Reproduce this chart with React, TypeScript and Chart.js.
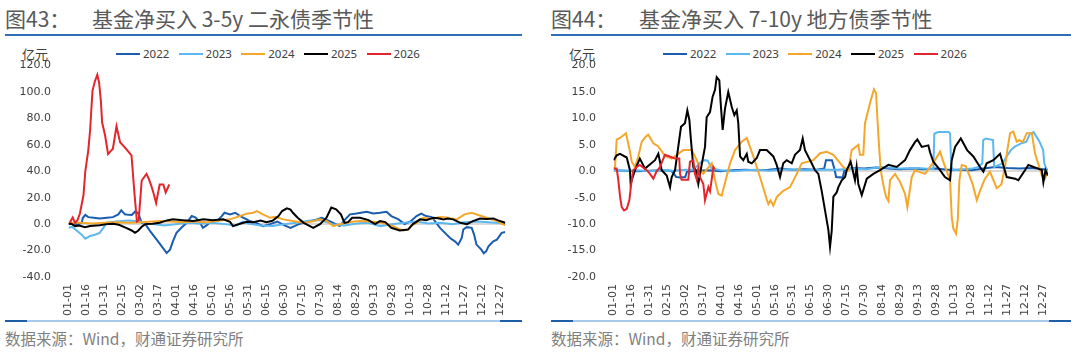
import React, { useEffect, useRef } from 'react';
import { Chart, registerables } from 'chart.js';

Chart.register(...registerables);

type Pt = [number, number];

const X_TICK_LABELS = ['01-01', '01-16', '01-31', '02-15', '03-02', '03-17', '04-01', '04-16', '05-01', '05-16', '05-31', '06-15', '06-30', '07-15', '07-30', '08-14', '08-29', '09-13', '09-28', '10-13', '10-28', '11-12', '11-27', '12-12', '12-27'];
const X_TICK_DAYS = [0, 15, 30, 45, 60, 75, 90, 105, 120, 135, 150, 165, 180, 195, 210, 225, 240, 255, 270, 285, 300, 315, 330, 345, 360];

const SERIES_NAMES = ['2022', '2023', '2024', '2025', '2026'];
const SERIES_COLORS = ['#1a5db0', '#5cb8f2', '#f5a72b', '#000000', '#e3262b'];

// ---------- 图43: 3-5y 二永债 (day of year, 亿元) ----------
const L22: Pt[] = [[0, 0], [4, 0.5], [8, 0], [11, 1], [12, 4.8], [14, 7], [16.5, 5.3], [21, 4.8], [26, 4.3], [32, 4.8], [37, 5.3], [41.5, 7.4], [44, 10.4], [47, 7.4], [50, 7], [52.7, 6.9], [55.4, 9.4], [58, 8.6], [61, 1], [64, 0], [68, -5.3], [73.5, -11.7], [77.7, -16.8], [81.8, -21.9], [84.6, -19.3], [87, -13], [90, -6.6], [94, -2.8], [98.5, 1], [102.7, 6.1], [106, 5], [109.6, 1], [112, -2.8], [115, -1], [119, 2.3], [124, 2.5], [127.7, 6.1], [130, 8.6], [134.6, 7.4], [139, 8.6], [143, 6.1], [148.5, 3.6], [151, 2.3], [156, 1], [162, -1.5], [168, 0], [174, 2], [180, -1], [185, -2.8], [192, 0], [200, 2], [207, 3.6], [211, 4.8], [218, 2], [226, -1.5], [230, 3], [234.6, 7.4], [240, 8], [248.5, 9.4], [254, 8], [259.6, 8.6], [265, 9.4], [269, 6.1], [275, 3.6], [280, 0], [285, 2], [290, 6.1], [294, 7.9], [298, 6.1], [302.7, 5.3], [305.4, 2.3], [309.6, -2.8], [313.7, -6.6], [318, -10.5], [322, -13], [324.8, -15.5], [327.7, -10.5], [329, -4.1], [331.8, -2.3], [336, -2.8], [338, -7.9], [340, -15.5], [344, -19.3], [346, -22], [348, -20.6], [350, -16.8], [354, -13], [357, -11.7], [361, -6.6], [364, -6]];
const L23: Pt[] = [[0, -2.8], [3, -2], [7, -5], [11, -8], [14, -11], [18, -9], [22, -8], [26, -6.6], [29, -2.8], [32, 1], [40, 2], [50, 2.8], [60, 2], [64, 0.5], [70, 0], [80, -1], [90, 0], [100, 1], [110, 0.5], [120, 1], [130, 0], [140, -1], [145, 1.8], [150, 0.5], [160, -1], [170, -1.5], [180, 0], [190, 1], [200, 2.5], [210, 3], [220, 0], [230, -1], [240, 0.5], [250, 1], [260, -1.5], [270, 0], [280, 1], [290, 2], [300, 0.5], [310, 1], [320, 0], [330, 1.5], [340, 2], [350, 1.5], [364, 0.5]];
const L24: Pt[] = [[0, 1], [10, 1], [20, 0.5], [30, 1], [40, 1.5], [50, 1], [60, 1.5], [70, 2], [76, 2.3], [85, 2], [95, 1.5], [105, 2], [115, 1.5], [125, 2.5], [134.6, 3.6], [143, 6.1], [148.5, 7.9], [154, 8.6], [157, 9.9], [162, 7.4], [168, 4.8], [172, 5.5], [179, 3.6], [187, 2.3], [196, 1], [203, 2], [209.6, 3.6], [215, 2.5], [220.7, -1.5], [226, 0], [232, 1], [238, 2], [243, 2.3], [250, 2], [258, 1.5], [265, 0], [270.7, -1.5], [275, -3.5], [279, -4.8], [283, -4], [286, -1], [290, 1], [295.7, 4.8], [300, 4], [305, 4.5], [309.6, 5.3], [315, 5], [323.5, 3.6], [330, 7.4], [336, 8.6], [341.5, 6.9], [348.5, 4.8], [357, 2.3], [362, 0], [364, -1]];
const L25: Pt[] = [[0, 0], [2, 0.5], [5.4, -1.5], [9, -1], [13.7, -2.3], [18, -1.5], [26, -0.8], [32, 0], [37, 0.3], [42, -0.5], [48, -2.8], [52.7, -4.8], [55.4, -6.6], [58, -5], [61, -2], [64, 0], [70, 0.2], [76, 1], [82, 2.8], [87, 3.6], [95, 3], [104, 2.3], [112.5, 3.6], [120, 3], [129, 3.6], [134.6, 1.8], [137, -1.5], [143, 0.3], [148.5, 1.8], [154, 1.5], [160, 2.8], [165, 1.5], [170, 2.5], [175, 6.1], [178, 9.9], [182, 12], [185, 11], [187, 8.6], [191, 4.8], [196, 1], [200, -1], [204, -2.8], [209.6, 0], [215, 4.8], [219, 12.5], [223, 11.2], [227, 7.4], [230, 1], [233, 1.5], [236.4, 4.8], [243, 4.8], [250, 3], [255.5, 0], [259.6, 2.3], [264, 1.5], [269, -2.8], [276, -4.8], [283, -4.1], [287, 0], [293, 3.6], [298, 3], [304, 4.8], [308, 4.5], [312.5, 3.6], [316, 4.2], [320.5, 3.6], [326.5, 1], [332, 0], [337, 2.3], [343, 4.3], [348, 3.8], [354, 4.3], [358, 2.8], [364, 1]];
const L26: Pt[] = [[1, 1], [3.5, 5], [5.5, 1], [7.5, 3], [9.5, 8], [11, 15], [12.5, 22], [14, 40], [16.5, 56], [18, 71], [20, 101], [22, 108], [24, 113], [25.5, 107], [27, 93], [28, 77], [30.5, 67], [33, 53], [35, 55], [37, 57], [40, 74], [43, 62], [48, 57], [52.5, 52], [55, 23], [57, 2], [58.5, 3], [61, 33], [65, 38], [67, 34], [69, 29], [71, 23], [73, 16], [76, 30], [79, 30], [81, 24], [84, 30]];

// ---------- 图44: 7-10y 地方债 (day of year, 亿元) ----------
const R22: Pt[] = [[0, 0.2], [10, 0.1], [20, 0], [30, 0.1], [40, 0.2], [48, 0.1], [50, -0.3], [52.5, -1.1], [56, -1.2], [60, -1.1], [61.5, -0.1], [70, 0.1], [80, 0.2], [90, 0], [100, 0.2], [110, 0.3], [120, 0.2], [130, 0.3], [140, 0.5], [150, 0.3], [160, 0.4], [170, 0.3], [176.5, 0.5], [178, 2.1], [183, 2.1], [185, 0.5], [186.5, -1.1], [192, -1.2], [193.5, 0.2], [200, 0.6], [210, 0.5], [220, 0.7], [230, 0.5], [240, 0.4], [250, 0.5], [260, 0.4], [270, 0.5], [280, 0.3], [290, 0.3], [300, 0.2], [310, 0.5], [320, 0.8], [330, 0.6], [340, 0.5], [350, 0.6], [360, 0.4], [364, 0.3]];
const R23: Pt[] = [[0, 0.2], [10, 0.1], [20, 0.2], [30, 0], [40, 0.2], [50, 0.1], [60, 0.3], [66, 0.3], [70, 1], [72, 1.5], [76, 2.1], [79, 2], [82, 0.5], [90, 0.2], [100, 0], [110, 0.2], [120, 0.3], [130, 0.1], [145, 0.4], [160, 0.2], [175, 0.3], [188, 0.3], [200, 0.5], [212, 0.4], [224, 0.8], [240, 0.5], [255, 0.6], [268, 0.4], [268.8, 7.1], [272, 7.4], [281, 7.4], [282, 7.1], [283, 0.8], [285, 0.2], [300, 0.5], [306, 0.8], [309, 1.5], [309.8, 5.9], [312, 6.2], [318, 5.9], [319, 0.8], [326, 1.5], [330, 3], [333, 4], [336, 4.6], [342, 5.3], [346, 5.6], [349, 7.1], [352, 7.4], [357, 5.6], [360, 4], [361, 1.5], [363, 0.2], [364, 0.1]];
const R24: Pt[] = [[0, 0.5], [1.2, 0.9], [2.6, 6], [5.4, 6.3], [10.4, 7.2], [13.7, 3.7], [15.2, 1.8], [17.9, 0.8], [20.7, 2.8], [23.6, 5.6], [27.2, 6.6], [29.1, 6.9], [33.3, 5.3], [37.5, 4.7], [43, 2.9], [48.7, 2.4], [58.4, 4], [65.5, 4], [69.7, 2.1], [72.4, 0.5], [75.2, -0.5], [82.2, 1.5], [85, -1.7], [87.8, -4.3], [90.6, -4.6], [97.6, 1.5], [101.8, 4], [107.4, 5.6], [111.6, 6.3], [117.1, 2.8], [120, 0.8], [122.7, -1.1], [128.3, -5.3], [129.7, -6.2], [131.5, -5.5], [133.9, -6.5], [136.7, -4.9], [142.2, -3.7], [147.9, -3], [153.5, -0.5], [157.7, 1.5], [167.4, 2.1], [173, 3.4], [178.6, 3.7], [184.2, 3.1], [192.5, 0.8], [196.7, 0.2], [199.6, 4], [205.1, 5], [206.5, 3.1], [209.3, 3.1], [210.7, 9.1], [214.9, 12.9], [218.2, 15.5], [220, 14.8], [221, 10.3], [222.7, 4], [223.9, 0.2], [226, -2.5], [228.3, -4.8], [230.3, -5.6], [231.7, -1.7], [235.9, -0.5], [240, -2], [244.3, -4.3], [246.2, -6.8], [248, -4], [249.9, -1.1], [252.6, 0.2], [261, -0.5], [265.2, 0.8], [269.4, 2.1], [273.6, 3.7], [276, 2], [282, -1.7], [283.4, -8.7], [284.7, -10.8], [287, -11.8], [288.5, -9], [289.8, -1.7], [291.8, 1.2], [295, 1], [298.7, -1.1], [301, -2.5], [304.4, -5.5], [307.1, -3.7], [311, -1.5], [315.5, -0.1], [318, -1.5], [321.1, -3.2], [325, -2.5], [328, 0.8], [330, 4], [332.3, 7.2], [335, 7.5], [337.9, 5.6], [340, 5.9], [343, 5.5], [346.3, 7.2], [350.5, 7.2], [353.2, 3.4], [358.9, -0.8], [361.6, -1.4], [364, 0.2]];
const R25: Pt[] = [[0, 2.1], [2.6, 3], [5.4, 3.3], [11, 2.6], [13.7, 0.2], [14.3, -2.4], [16, -1.1], [17.9, 0.2], [22, 2.4], [26.3, 0.5], [34.7, 2.1], [37.5, 3.3], [40.3, 0.2], [44.5, -0.8], [47.3, -3], [48.7, -1.1], [51.5, 0.2], [56.5, 8.4], [59.8, 9.1], [61.8, 11.5], [63.5, 9.7], [64.6, 6.5], [66.8, 0.8], [69, 0.2], [71, -2.4], [73.8, 1.2], [76.6, 4.6], [78, 10.2], [80.8, 11.2], [83, 14.1], [85, 15.4], [86.4, 17.8], [88.6, 17.2], [89.8, 12.8], [91.4, 7.8], [93.4, 11.9], [96.1, 15], [99, 12.2], [101.2, 10.6], [103.2, 11.5], [104.5, 9.1], [106, 2.8], [108.7, 2.1], [111.6, 3.3], [112.9, 1.8], [115.8, 1.5], [120, 2.5], [122.7, 4], [128.3, 4], [133.9, 2.8], [136.7, 1.2], [139.5, -1.1], [142.2, 1.5], [145.1, 2.1], [149.3, 1.5], [152, 3.1], [156.2, 4], [158.5, 6.2], [160.4, 4], [166, 1.5], [168.8, 0.2], [171.6, -0.5], [174.4, -3.7], [177.2, -7.4], [180, -11.1], [181.4, -14.3], [182.8, -11.3], [184.2, -4.8], [187, -4], [188.4, -3], [191.2, -1.7], [194, -1.1], [195.4, 0.2], [198.7, 1.8], [200.4, 0.2], [202.3, -1.7], [203.7, 0.8], [205.1, -2.4], [208, -4.5], [212.2, -1.4], [217.7, -0.5], [223.3, 0.2], [230.3, 1.2], [237.3, 0.8], [244.3, 2.1], [248.4, 4], [252.6, 5.5], [254.6, 6], [258.3, 4.6], [263.8, 4.9], [265.2, 3.6], [268, 1.8], [273.6, 0.2], [277.7, -1.1], [282, -1.7], [283.4, 2.1], [286.2, 4.6], [291, 6.2], [296.3, 4], [301.5, 2.8], [307.1, 0.8], [309.9, -0.1], [312.7, 1.5], [318.3, 2.1], [323.9, 3.3], [329.5, -1.1], [336.5, -1.4], [339.2, -1.7], [344.8, 0.2], [347.6, 1.2], [352, 0.8], [356, 0.5], [358.9, 0.2], [360.2, -2.1], [362, 0.2], [364, -0.8]];
const R26: Pt[] = [[0, 0.5], [2.6, 0.5], [3.9, -1.6], [5.4, -4.8], [6.8, -6.8], [8.7, -7.4], [11, -7.1], [13.2, -5.5], [15.2, -1.6], [16.5, 0.2], [19.4, 0.8], [22, 1.2], [27.7, 0.2], [30.5, -0.5], [33.3, -1.4], [36, 0], [38.9, 0.8], [41.7, 2.4], [43, 3.1], [47, 2.8], [51.5, 2.4], [55, 2.4], [55.7, -0.5], [57, -1.6], [62.6, -1.6], [64, 1.8], [66.8, 2.1], [68.2, -0.5], [69.7, -1.6], [71, 0.5], [72.4, -1.1], [75.2, -2.4], [76.6, -5.5], [79.4, -3], [80.8, -3.8], [82.2, -1.6], [83.6, 0.8], [84.8, 0.4]];

const TITLE_COLOR = '#595959';
const AXIS_COLOR = '#404040';
const CJK = '"Noto Sans CJK SC", "Noto Sans", sans-serif';
const TICK_FONT = { family: '"DejaVu Sans", sans-serif', size: 11 };

interface Area { left: number; right: number; top: number; bottom: number }

function LineChart(props: { series: Pt[][]; yMin: number; yMax: number; yStep: number; x: number; y: number; w: number; h: number; area: Area; labelRight: number }) {
  const ref = useRef<HTMLCanvasElement>(null);
  const { series, yMin, yMax, yStep, x, y, w, h, area, labelRight } = props;
  useEffect(() => {
    const chart = new Chart(ref.current as HTMLCanvasElement, {
      type: 'line',
      data: {
        datasets: series.map((pts, i) => ({
          label: SERIES_NAMES[i],
          data: pts.map(([dx, dy]) => ({ x: dx, y: dy })),
          borderColor: SERIES_COLORS[i],
          backgroundColor: SERIES_COLORS[i],
          borderWidth: 2,
          pointRadius: 0,
          pointHoverRadius: 0,
          tension: 0,
          fill: false,
          order: SERIES_NAMES.length - i,
        })),
      },
      options: {
        responsive: false,
        animation: false,
        devicePixelRatio: 1,
        events: [],
        layout: { padding: { top: area.top, right: w - area.right, bottom: 0, left: 0 } },
        plugins: { legend: { display: false }, tooltip: { enabled: false } },
        scales: {
          x: {
            type: 'linear',
            min: 0,
            max: 364,
            afterBuildTicks: (s: any) => {
              s.ticks = X_TICK_DAYS.map((v) => ({ value: v }));
            },
            afterFit: (s: any) => {
              s.height = h - area.bottom;
            },
            ticks: {
              autoSkip: false,
              minRotation: 90,
              maxRotation: 90,
              padding: 7,
              font: TICK_FONT,
              color: AXIS_COLOR,
              callback: (_v: any, i: number) => X_TICK_LABELS[i],
            },
            grid: { display: false, drawTicks: false },
            border: { display: false },
          },
          y: {
            type: 'linear',
            min: yMin,
            max: yMax,
            afterFit: (s: any) => {
              s.width = area.left;
            },
            ticks: {
              stepSize: yStep,
              padding: area.left - labelRight,
              font: TICK_FONT,
              color: AXIS_COLOR,
              callback: (v: any) => Number(v).toFixed(1),
            },
            grid: {
              drawTicks: false,
              lineWidth: 2,
              color: (c: any) => (c.tick && c.tick.value === 0 ? '#d9d9d9' : 'rgba(0,0,0,0)'),
            },
            border: { display: false },
          },
        },
      },
    } as any);
    return () => chart.destroy();
  }, []);
  return <canvas ref={ref} width={w} height={h} style={{ position: 'absolute', left: x, top: y, width: w, height: h }} />;
}

function Legend(props: { x: number; y: number; unitX: number }) {
  const offsets = [0, 62.6, 125.3, 187.9, 250.6];
  return (
    <>
      <div style={{ position: 'absolute', left: props.unitX, top: props.y - 9, fontFamily: CJK, fontSize: 13, lineHeight: '18px', color: AXIS_COLOR }}>亿元</div>
      {SERIES_NAMES.map((n, i) => (
        <div key={n} style={{ position: 'absolute', left: props.x + offsets[i], top: props.y - 8, height: 16, display: 'flex', alignItems: 'center' }}>
          <div style={{ width: 24, height: 2, background: SERIES_COLORS[i] }} />
          <div style={{ marginLeft: 3, fontFamily: '"Noto Sans", sans-serif', fontSize: 11.5, lineHeight: '16px', color: AXIS_COLOR }}>{n}</div>
        </div>
      ))}
    </>
  );
}

function Panel(props: { x: number; num: string; title: string; titleX: number; lineW: number; series: Pt[][]; yMin: number; yMax: number; yStep: number; areaLeft: number; areaRight: number; labelRight: number; legendX: number; unitX: number }) {
  const p = props;
  return (
    <>
      <div style={{ position: 'absolute', left: p.x, top: 7, fontFamily: CJK, fontSize: 21, lineHeight: '22px', color: TITLE_COLOR, whiteSpace: 'nowrap' }}>{p.num}</div>
      <div style={{ position: 'absolute', left: p.titleX, top: 7, fontFamily: CJK, fontSize: 21, lineHeight: '22px', color: TITLE_COLOR, whiteSpace: 'nowrap' }}>{p.title}</div>
      <div style={{ position: 'absolute', left: p.x, top: 34, width: p.lineW, height: 2, background: '#2f6fb5' }} />
      <Legend x={p.legendX} y={54} unitX={p.unitX} />
      <LineChart
        series={p.series}
        yMin={p.yMin}
        yMax={p.yMax}
        yStep={p.yStep}
        x={p.x - 5}
        y={40}
        w={540}
        h={280}
        area={{ left: p.areaLeft, right: p.areaRight, top: 25.5, bottom: 237 }}
        labelRight={p.labelRight}
      />
      <div style={{ position: 'absolute', left: p.x, top: 320, width: p.lineW, height: 1.5, background: '#a9c9ea' }} />
      <div style={{ position: 'absolute', left: p.x, top: 319.5, width: 22, height: 2, background: '#1f5fa8' }} />
      <div style={{ position: 'absolute', left: p.x + p.lineW - 22, top: 319.5, width: 22, height: 2, background: '#1f5fa8' }} />
      <div style={{ position: 'absolute', left: p.x, top: 328, fontFamily: CJK, fontSize: 15.5, lineHeight: '20px', color: '#7f7f7f', whiteSpace: 'nowrap' }}>数据来源：Wind，财通证券研究所</div>
    </>
  );
}

export default function App() {
  return (
    <div style={{ position: 'absolute', left: 0, top: 0, width: 1080, height: 354, background: '#ffffff', overflow: 'hidden' }}>
      <Panel x={5} num="图43：" title="基金净买入 3-5y 二永债季节性" titleX={92} lineW={517} series={[L22, L23, L24, L25, L26]} yMin={-40} yMax={120} yStep={20} areaLeft={68.5} areaRight={505.3} labelRight={51} legendX={116} unitX={22} />
      <Panel x={551} num="图44：" title="基金净买入 7-10y 地方债季节性" titleX={639} lineW={520} series={[R22, R23, R24, R25, R26]} yMin={-20} yMax={20} yStep={5} areaLeft={67.6} areaRight={501.9} labelRight={50} legendX={663} unitX={569} />
    </div>
  );
}
